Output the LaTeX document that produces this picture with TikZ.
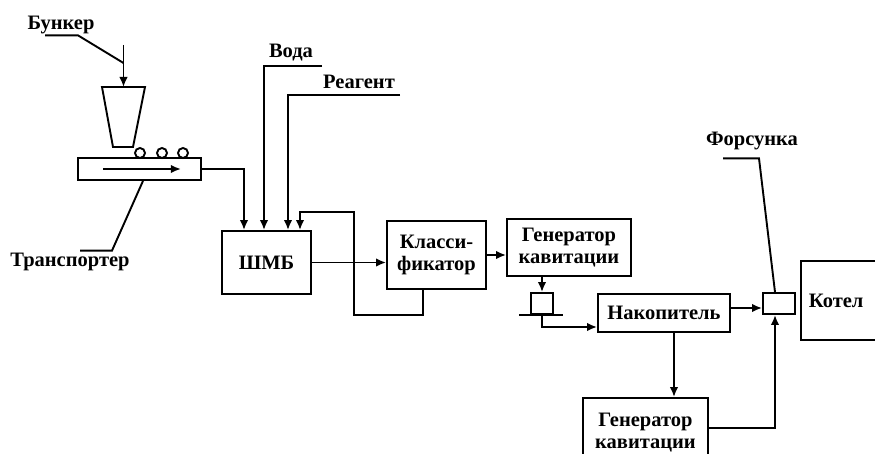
\documentclass[tikz,border=0pt]{standalone}
\usepackage{fontspec}
\setmainfont{Liberation Serif}
\usetikzlibrary{arrows.meta}

\begin{document}
\begin{tikzpicture}[
		x=1pt, y=-1pt,
		font=\fontsize{20.5}{22}\selectfont\bfseries,
		line width=1.9pt,
		blok/.style={draw, inner sep=0pt, align=center},
		strel/.style={-{Latex[length=10pt,width=8.5pt]}},
		metka/.style={anchor=base, inner sep=0pt}
	]
	\useasboundingbox (0,0) rectangle (875,454);
	\clip (0,0) rectangle (875,454);

	% bunker and transporter
	\draw (102,87) -- (145,87) -- (133,147) -- (113,147) -- cycle;
	\coordinate (hopper) at (123.5,87);
	\coordinate (feed) at (123.5,45);
	\coordinate (feed-mid) at (123.5,63);
	\node[blok, minimum width=123pt, minimum height=22pt] (trans) at (139.5,169) {};
	\foreach \x in {140,162,183}
		\draw (\x,153) circle (5pt);
	\draw[strel] ([xshift=26pt]trans.west) -- ([xshift=-21pt]trans.east);
	\draw[strel] (feed) -- (hopper);

	\node[metka] (l-bunker) at (61,30) {Бункер};
	\node[metka] (l-trans) at (70,267) {Транспортер};
	\draw ([xshift=-16pt]l-bunker.south) -- ++(33,0) -- (feed-mid);
	\draw ([xshift=10pt,yshift=2pt]l-trans.north) -- ++(32,0) -- ([xshift=3.5pt]trans.south);

	% main blocks
	\node[blok, minimum width=89pt, minimum height=63pt] (shmb) at (266.5,262.5) {ШМБ};
	\node[blok, minimum width=99pt, minimum height=68pt] (klass) at (436.5,255) {Класси-\\фикатор};
	\node[blok, minimum width=124pt, minimum height=57pt] (gen1) at (569,247.5) {Генератор\\кавитации};
	\node[blok, minimum width=22pt, minimum height=21pt] (valve) at (542,303.5) {};
	\node[blok, minimum width=132pt, minimum height=38pt] (nakop) at (664,313) {Накопитель};
	\node[blok, minimum width=125pt, minimum height=70pt] (gen2) at (645.5,433) {Генератор\\кавитации};
	\node[blok, minimum width=32pt, minimum height=21pt] (nozzle) at (779,303.5) {};
	\node[blok, anchor=west, minimum height=79pt, text width=64pt, inner xsep=8pt, align=left] (kotel) at (800,300.5) {Котел};

	% inputs of ShMB
	\node[metka] (l-voda) at (291,58) {Вода};
	\node[metka] (l-reag) at (359,89) {Реагент};
	\coordinate (voda) at (322,66);
	\coordinate (reag) at (400,95);
	\draw[strel] (trans.east) -| ([xshift=-22.5pt]shmb.north);
	\draw[strel] (voda) -| ([xshift=-2.5pt]shmb.north);
	\draw[strel] (reag) -| ([xshift=21.5pt]shmb.north);

	% return from classifier
	\coordinate (fb-low) at (354,315);
	\coordinate (fb-top) at (300,212);
	\draw[strel] ([xshift=-13.5pt]klass.south) |- (fb-low) |- (fb-top) -- ([xshift=33.5pt]shmb.north);

	\draw[strel] (shmb.east) -- (shmb.east -| klass.west);
	\draw[strel] (klass.east) -- (klass.east -| gen1.west);
	\draw[strel] (valve.north |- gen1.south) -- (valve.north);
	\draw ([xshift=-11pt]valve.south west) -- ([xshift=9pt]valve.south east);
	\draw[strel] (valve.south) |- ([yshift=-14pt]nakop.west);
	\draw[strel] ([xshift=10pt]nakop.south) -- ([xshift=10pt]nakop.south |- gen2.north);
	\draw[strel] ([yshift=5pt]nakop.east) -- ([yshift=5pt]nakop.east -| nozzle.west);
	\draw[strel] ([yshift=5pt]gen2.east) -| ([xshift=-4pt]nozzle.south);

	% nozzle
	\node[metka] (l-fors) at (752,146) {Форсунка};
	\draw ([xshift=-29pt,yshift=-7pt]l-fors.south) -- ++(36,0) -- ([xshift=-4pt]nozzle.north);
\end{tikzpicture}
\end{document}
